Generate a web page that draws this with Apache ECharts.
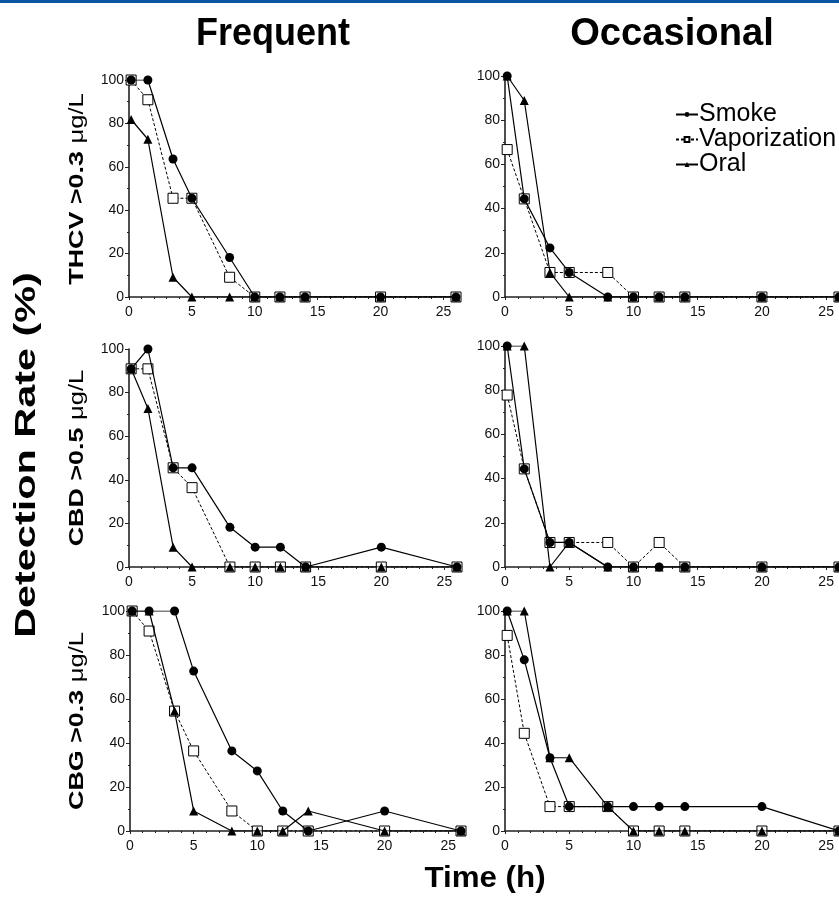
<!DOCTYPE html>
<html lang="en">
<head>
  <meta charset="UTF-8">
  <title>Detection Rate</title>
  <style>
    * { box-sizing: border-box; margin: 0; padding: 0; }
    body { background: #fff; }
    #chart { width: 839px; height: 898px; }
  </style>
  <script src="https://cdn.jsdelivr.net/npm/echarts@6/dist/echarts.min.js"></script>
</head>
<body>
  <div id="chart"></div>
  <script>
    // sampling times (h)
    const times = [0.17, 1.5, 3.5, 5, 8, 10, 12, 14, 20, 26];
    const xTicks = [0, 5, 10, 15, 20, 25];
    const yTicks = [0, 20, 40, 60, 80, 100];
    const routes = ['Smoke', 'Vaporization', 'Oral'];
    const columns = ['Frequent', 'Occasional'];
    const analytes = ['THCV >0.3 ', 'CBD >0.5 ', 'CBG >0.3 '];

    // THCV
    const thcvFreqSmoke = [100, 100, 63.6, 45.5, 18.2, 0, 0, 0, 0, 0];
    const thcvFreqVapor = [100, 90.9, 45.5, 45.5, 9.1, 0, 0, 0, 0, 0];
    const thcvFreqOral  = [81.8, 72.7, 9.1, 0, 0, 0, 0, 0, 0, 0];
    const thcvOccSmoke  = [100, 44.4, 22.2, 11.1, 0, 0, 0, 0, 0, 0];
    const thcvOccVapor  = [66.7, 44.4, 11.1, 11.1, 11.1, 0, 0, 0, 0, 0];
    const thcvOccOral   = [100, 88.9, 11.1, 0, 0, 0, 0, 0, 0, 0];
    // CBD
    const cbdFreqSmoke = [90.9, 100, 45.5, 45.5, 18.2, 9.1, 9.1, 0, 9.1, 0];
    const cbdFreqVapor = [90.9, 90.9, 45.5, 36.4, 0, 0, 0, 0, 0, 0];
    const cbdFreqOral  = [90.9, 72.7, 9.1, 0, 0, 0, 0, 0, 0, 0];
    const cbdOccSmoke  = [100, 44.4, 11.1, 11.1, 0, 0, 0, 0, 0, 0];
    const cbdOccVapor  = [77.8, 44.4, 11.1, 11.1, 11.1, 0, 11.1, 0, 0, 0];
    const cbdOccOral   = [100, 100, 0, 11.1, 0, 0, 0, 0, 0, 0];
    // CBG
    const cbgFreqSmoke = [100, 100, 100, 72.7, 36.4, 27.3, 9.1, 0, 9.1, 0];
    const cbgFreqVapor = [100, 90.9, 54.5, 36.4, 9.1, 0, 0, 0, 0, 0];
    const cbgFreqOral  = [100, 100, 54.5, 9.1, 0, 0, 0, 9.1, 0, 0];
    const cbgOccSmoke  = [100, 77.8, 33.3, 11.1, 11.1, 11.1, 11.1, 11.1, 11.1, 0];
    const cbgOccVapor  = [88.9, 44.4, 11.1, 11.1, 11.1, 0, 0, 0, 0, 0];
    const cbgOccOral   = [100, 100, 33.3, 33.3, 11.1, 0, 0, 0, 0, 0];

    // panels in reading order: [smoke, vapor, oral]
    const panels = [
      [thcvFreqSmoke, thcvFreqVapor, thcvFreqOral],
      [thcvOccSmoke, thcvOccVapor, thcvOccOral],
      [cbdFreqSmoke, cbdFreqVapor, cbdFreqOral],
      [cbdOccSmoke, cbdOccVapor, cbdOccOral],
      [cbgFreqSmoke, cbgFreqVapor, cbgFreqOral],
      [cbgOccSmoke, cbgOccVapor, cbgOccOral]
    ];

    // plot boxes (px): left, top, width, height
    const boxes = [
      [129, 80, 327, 217], [505, 76, 338, 221],
      [129, 349, 328, 218], [505, 346, 338, 221],
      [130, 611, 331, 220], [505, 611, 338, 220]
    ];
    const rowMid = [189, 458, 721];

    const ink = '#000';
    const font = 'Liberation Sans, Arial, sans-serif';

    const grid = [], xAxis = [], yAxis = [], series = [];
    boxes.forEach((b, i) => {
      grid.push({ left: b[0], top: b[1], width: b[2], height: b[3] });
      xAxis.push({
        type: 'value', gridIndex: i, min: 0, max: 26, interval: 5,
        axisLine: { lineStyle: { color: '#222', width: 1.6 } },
        axisTick: { length: 3, lineStyle: { color: '#222' } },
        minorTick: { show: true, splitNumber: 5, length: 2, lineStyle: { color: '#222' } },
        splitLine: { show: false },
        axisLabel: {
          color: '#111', fontSize: 14, fontFamily: font, margin: 8,
          showMaxLabel: false,
          formatter: v => xTicks.includes(v) ? String(v) : ''
        }
      });
      yAxis.push({
        type: 'value', gridIndex: i, min: 0, max: 100, interval: 20,
        axisLine: { show: true, lineStyle: { color: '#222', width: 1.6 } },
        axisTick: { show: true, length: 4, lineStyle: { color: '#222' } },
        minorTick: { show: true, splitNumber: 2, length: 2, lineStyle: { color: '#222' } },
        splitLine: { show: false },
        axisLabel: {
          color: '#111', fontSize: 14, fontFamily: font, margin: 5,
          formatter: v => yTicks.includes(v) ? String(v) : ''
        }
      });

      const [smoke, vapor, oral] = panels[i];
      const pts = arr => times.map((t, k) => [t, arr[k]]);
      // vaporization drawn first so filled markers sit on top
      series.push({
        name: 'Vaporization', type: 'line', xAxisIndex: i, yAxisIndex: i,
        data: pts(vapor), symbol: 'rect', symbolSize: 10,
        lineStyle: { color: ink, width: 1, type: [3, 2] },
        itemStyle: { color: '#fff', borderColor: ink, borderWidth: 1 },
        z: 2, animation: false
      });
      series.push({
        name: 'Smoke', type: 'line', xAxisIndex: i, yAxisIndex: i,
        data: pts(smoke), symbol: 'circle', symbolSize: 9,
        lineStyle: { color: ink, width: 1.2 },
        itemStyle: { color: ink },
        z: 3, animation: false
      });
      series.push({
        name: 'Oral', type: 'line', xAxisIndex: i, yAxisIndex: i,
        data: pts(oral), symbol: 'triangle', symbolSize: 9,
        lineStyle: { color: ink, width: 1.2 },
        itemStyle: { color: ink },
        z: 4, animation: false
      });
    });

    // row labels (rotated, slightly stretched like the original figure)
    const rowLabels = analytes.map((a, r) => ({
      type: 'text', x: 77, y: rowMid[r], rotation: Math.PI / 2, scaleX: 1.28,
      style: {
        text: '{b|' + a + '}{r|μg/L}',
        rich: {
          b: { font: 'bold 21px ' + font, fill: ink },
          r: { font: '20px ' + font, fill: ink }
        },
        textAlign: 'center', textVerticalAlign: 'middle'
      }
    }));

    const chart = echarts.init(document.getElementById('chart'));
    chart.setOption({
      backgroundColor: '#fff',
      animation: false,
      grid, xAxis, yAxis, series,
      legend: {
        data: routes, orient: 'vertical', left: 670, top: 97,
        itemWidth: 22, itemHeight: 6, itemGap: 0,
        textStyle: { fontSize: 25, fontFamily: font, color: ink, padding: [0, 0, 0, -4] }
      },
      graphic: [
        { type: 'rect', shape: { x: 0, y: 0, width: 839, height: 3 }, style: { fill: '#0a56a5' } },
        { type: 'text', x: 273, y: 34, scaleY: 1.1, style: { text: columns[0], font: 'bold 36px ' + font, fill: ink, textAlign: 'center', textVerticalAlign: 'middle' } },
        { type: 'text', x: 672, y: 34, scaleY: 1.1, scaleX: 1.06, style: { text: columns[1], font: 'bold 36px ' + font, fill: ink, textAlign: 'center', textVerticalAlign: 'middle' } },
        { type: 'text', x: 27, y: 455, rotation: Math.PI / 2, scaleX: 1.38, style: { text: 'Detection Rate (%)', font: 'bold 30px ' + font, fill: ink, textAlign: 'center', textVerticalAlign: 'middle' } },
        { type: 'text', x: 485, y: 879, scaleX: 1.08, style: { text: 'Time (h)', font: 'bold 29px ' + font, fill: ink, textAlign: 'center', textVerticalAlign: 'middle' } }
      ].concat(rowLabels)
    });
    window.addEventListener('resize', () => chart.resize());
  </script>
</body>
</html>
